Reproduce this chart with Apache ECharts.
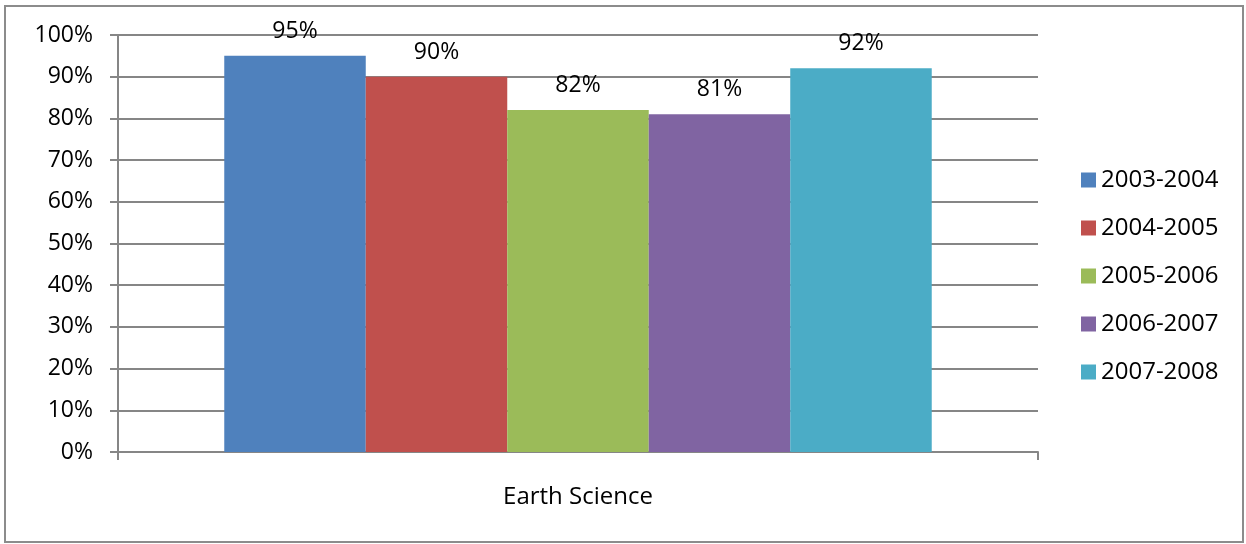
<!DOCTYPE html>
<html><head><meta charset="utf-8">
<script src="https://cdn.jsdelivr.net/npm/echarts@6/dist/echarts.min.js"></script>
<style>html,body{margin:0;padding:0;background:#fff}#c{width:1246px;height:544px}</style>
</head><body><div id="c"></div>
<script>
const categories = ["Earth Science"];
const seriesNames = ["2003-2004","2004-2005","2005-2006","2006-2007","2007-2008"];
const values2003 = [95];
const values2004 = [90];
const values2005 = [82];
const values2006 = [81];
const values2007 = [92];
const colors = ["#4F81BD","#C0504D","#9BBB59","#8064A2","#4BACC6"];
const allValues = [values2003, values2004, values2005, values2006, values2007];
const FONT = "'Open Sans', sans-serif";
const FS = 24;
const chart = echarts.init(document.getElementById('c'));
chart.setOption({
  animation: false,
  graphic: [{type:'rect', shape:{x:5,y:6,width:1238,height:536}, style:{fill:'none', stroke:'#8c8c8c', lineWidth:2}}],
  grid: {left:118, right:208, top:35, bottom:92},
  legend: {
    orient:'vertical', left:1076, top:163, itemWidth:15, itemHeight:15, itemGap:24, itemTextGap:6,
    icon:'rect', textStyle:{fontSize:FS, color:'#000', fontFamily:FONT},
    data: seriesNames
  },
  xAxis: {
    type:'category', data:categories,
    axisLine:{lineStyle:{color:'#868686', width:2}},
    axisTick:{show:true, length:8, lineStyle:{color:'#868686', width:2}},
    axisLabel:{fontSize:FS, color:'#000', fontFamily:FONT, margin:33}
  },
  yAxis: {
    type:'value', min:0, max:100, interval:10,
    axisLine:{show:true, lineStyle:{color:'#868686', width:2}},
    axisTick:{show:true, length:8, lineStyle:{color:'#868686', width:2}},
    splitLine:{lineStyle:{color:'#868686', width:2}},
    axisLabel:{fontSize:FS-1, color:'#000', fontFamily:FONT, margin:25, formatter:'{value}%'}
  },
  series: seriesNames.map((n,i)=>({
    name:n, type:'bar', data:allValues[i], barGap:'0%', barCategoryGap:'23.1%',
    itemStyle:{color:colors[i]},
    label:{show:true, position:'top', distance:13, fontSize:FS-1, color:'#000', fontFamily:FONT, formatter:'{c}%'}
  }))
});
</script></body></html>
